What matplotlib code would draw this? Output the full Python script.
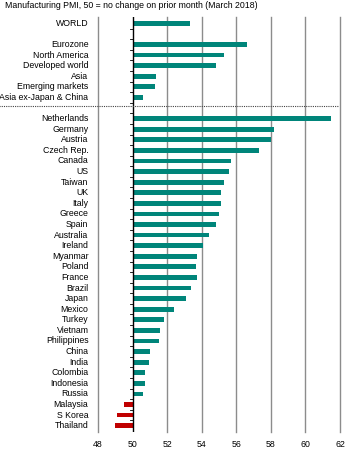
import numpy as np
import matplotlib.pyplot as plt

plt.rcParams['font.family'] = ['Liberation Sans', 'DejaVu Sans']

regions = ['WORLD', '', 'Eurozone', 'North America', 'Developed world', 'Asia',
           'Emerging markets', 'Asia ex-Japan & China']
region_pmi = [53.3, np.nan, 56.6, 55.3, 54.8, 51.35, 51.3, 50.6]

countries = ['Netherlands', 'Germany', 'Austria', 'Czech Rep.', 'Canada', 'US', 'Taiwan',
             'UK', 'Italy', 'Greece', 'Spain', 'Australia', 'Ireland', 'Myanmar', 'Poland',
             'France', 'Brazil', 'Japan', 'Mexico', 'Turkey', 'Vietnam', 'Philippines',
             'China', 'India', 'Colombia', 'Indonesia', 'Russia', 'Malaysia', 'S Korea',
             'Thailand']
country_pmi = [61.5, 58.2, 58.0, 57.3, 55.7, 55.6, 55.3, 55.1, 55.1, 55.0, 54.8, 54.4,
               54.1, 53.7, 53.65, 53.7, 53.4, 53.1, 52.4, 51.8, 51.6, 51.5, 51.0, 50.95,
               50.7, 50.7, 50.6, 49.5, 49.1, 49.0]

xticks = [48, 50, 52, 54, 56, 58, 60, 62]

labels = regions + [''] + countries
values = region_pmi + [np.nan] + country_pmi
y = np.arange(len(labels))

teal = '#00857a'
red = '#c00000'

fig = plt.figure(figsize=(3.5, 4.5), dpi=100)
ax = fig.add_axes([97 / 350, 1 - 432 / 450, 244 / 350, (432 - 17) / 450])

for yi, v in zip(y, values):
    if np.isnan(v):
        continue
    c = teal if v >= 50 else red
    ax.barh(yi, v - 50, left=50, height=0.45, color=c)

ax.set_xlim(47.94, 62.06)
ax.set_ylim(len(labels) - 0.4, -0.6)
ax.set_xticks(xticks)
ax.set_xticklabels([str(t) for t in xticks], fontsize=6.3)
ax.tick_params(axis='x', length=0, pad=6)

# vertical grid
for t in xticks:
    if t != 50:
        ax.plot([t, t], [len(labels) - 0.4, -0.6], color='#8c8c8c', lw=1.0, zorder=0,
                clip_on=False)
ax.axvline(50, color='black', lw=1.0, zorder=3)

for s in ax.spines.values():
    s.set_visible(False)

ax.set_yticks([])
for yi, lab in zip(y, labels):
    ax.text(-0.035, yi, lab, transform=ax.get_yaxis_transform(), ha='right', va='center',
            fontsize=6.3)

# small ticks on the 50 line at row boundaries
for b in np.arange(0.5, len(labels) - 1, 1.0):
    ax.plot([49.85, 50], [b, b], color='black', lw=0.6, zorder=3)

# dotted separator between regions and countries
ax.plot([-0.4, 0.99], [7.85, 7.85], transform=ax.get_yaxis_transform(), color='#444444',
        lw=0.8, ls=(0, (1, 1)), clip_on=False, zorder=4)

fig.text(5 / 350, 1 - 6 / 450, 'Manufacturing PMI, 50 = no change on prior month (March 2018)',
         fontsize=6.3, va='center', ha='left')

fig.savefig('out.png', dpi=100)
